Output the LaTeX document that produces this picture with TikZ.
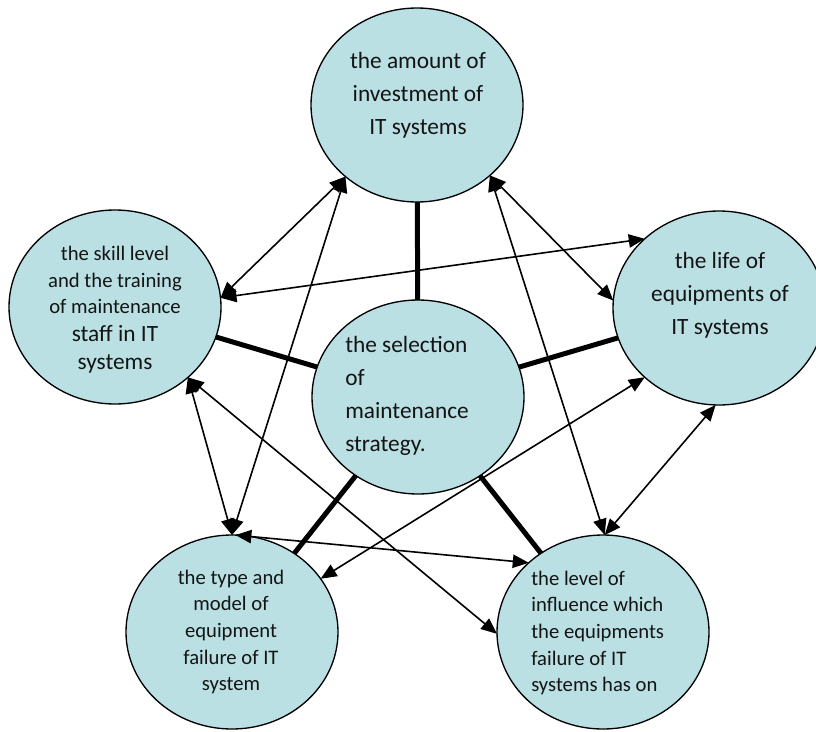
\documentclass[tikz,border=0pt]{standalone}
\usepackage{fontspec}
\setmainfont{Carlito}
\usetikzlibrary{shapes.geometric,arrows.meta}
\definecolor{cfill}{RGB}{186,224,228}
\definecolor{ctext}{RGB}{20,20,20}
\begin{document}
\begin{tikzpicture}[x=0.75pt,y=-0.75pt,
  bubble/.style={ellipse, draw=black, line width=1pt, fill=cfill, minimum width=159pt, minimum height=145.5pt, inner sep=0pt, outer sep=0pt},
  bigtxt/.style={text=ctext, inner sep=0pt, font=\fontsize{17.5}{24.75}\selectfont},
  smalltxt/.style={text=ctext, inner sep=0pt, font=\fontsize{15.5}{20}\selectfont},
  link/.style={line width=1.2pt, {Triangle[length=12pt,width=10pt]}-{Triangle[length=12pt,width=10pt]}},
  hub/.style={line width=3.75pt}]
\useasboundingbox (0,0) rectangle (816,731);
% circles
\node[bubble] (nTop) at (417,105) {};
\node[bubble] (nLeft) at (115,307) {};
\node[bubble] (nRight) at (719,308) {};
\node[bubble] (nMid) at (418,397) {};
\node[bubble] (nBL) at (232,632) {};
\node[bubble] (nBR) at (603,632) {};
% texts
\node[bigtxt, align=center] (tTop) at (418,95) {the amount of\\investment of\\IT systems};
\node[bigtxt, align=center] (tRight) at (720,295) {the life of\\equipments of\\IT systems};
\node[bigtxt, align=left, anchor=west] (tMid) at (345,396) {the selection\\of\\maintenance\\strategy.};
\node[smalltxt, align=center] (tLeft) at (115,310) {the skill level\\and the training\\of maintenance\\[1pt]{\fontsize{17.5}{24}\selectfont staff in IT}\\[1pt]{\fontsize{17.5}{24}\selectfont systems}};
\node[smalltxt, align=center] (tBL) at (231,632) {the type and\\model of\\equipment\\failure of IT\\system};
\node[smalltxt, align=left, anchor=west] (tBR) at (531,633) {the level of\\influence which\\the equipments\\failure of IT\\systems has on};
% hub lines
\draw[hub] (nMid) -- (nTop);
\draw[hub] (nMid) -- (nLeft);
\draw[hub] (nMid) -- (nRight);
\draw[hub] (nMid) -- (nBL);
\draw[hub] (nMid) -- (nBR);
% double-headed links
\draw[link] (nTop.225) -- (nLeft.5);
\draw[link] (nTop.225) -- (nBL.90);
\draw[link] (nTop.316) -- (nRight.176);
\draw[link] (nTop.316) -- (nBR.89);
\draw[link] (nLeft.5) -- (nRight.137);
\draw[link] (nLeft.-44) -- (nBL.90);
\draw[link] (nLeft.-44) -- (nBR.181);
\draw[link] (nRight.223) -- (nBL.31);
\draw[link] (nRight.268) -- (nBR.89);
\draw[link] (nBL.88) -- (nBR.137);
\end{tikzpicture}
\end{document}
